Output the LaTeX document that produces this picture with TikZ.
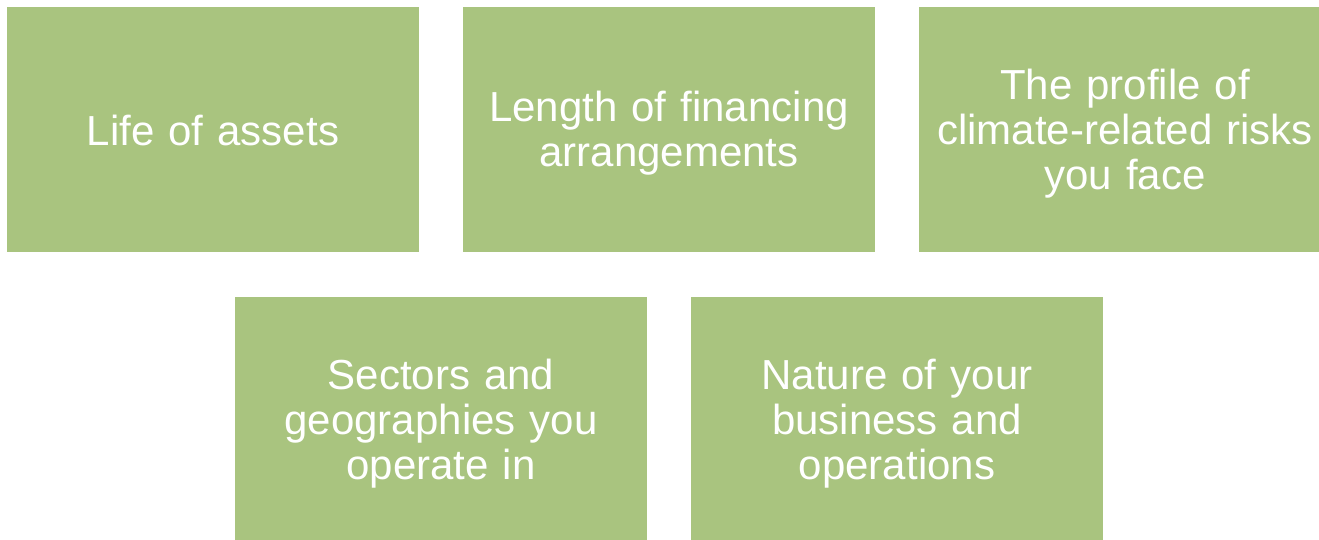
\documentclass[tikz,border=0pt]{standalone}
\usepackage{fontspec}
\setmainfont{Liberation Sans}
\definecolor{boxgreen}{HTML}{A9C47F}
\begin{document}
\begin{tikzpicture}[x=1pt,y=-1pt,
  gbox/.style={fill=boxgreen, draw=none, minimum width=412pt, minimum height=245pt,
    inner sep=0pt, text=white, align=center, text width=405pt,
    font=\fontsize{42}{45}\selectfont},
  gtext/.style={text=white, align=center, text width=405pt, inner sep=0pt,
    font=\fontsize{42}{45}\selectfont}]
\useasboundingbox (0,0) rectangle (1319,540);
\clip (0,0) rectangle (1319,540);
\fill[white] (0,0) rectangle (1319,540);
\node[gbox] (a) at (213,129.5) {};
\node[gbox] (b) at (669,129.5) {};
\node[gbox] (c) at (1125,129.5) {};
\node[gbox] (d) at (441,419.5) {};
\node[gbox] (e) at (897,419.5) {};
\node[gtext] (ta) at ([yshift=-1pt]a.center) {Life of assets};
\node[gtext] (tb) at ([yshift=-4pt]b.center) {Length of financing\\arrangements};
\node[gtext] (tc) at ([yshift=-4pt]c.center) {The profile of\\climate-related risks\\you face};
\node[gtext] (td) at ([yshift=-4pt]d.center) {Sectors and\\geographies you\\operate in};
\node[gtext] (te) at ([yshift=-4pt]e.center) {Nature of your\\business and\\operations};
\end{tikzpicture}
\end{document}
